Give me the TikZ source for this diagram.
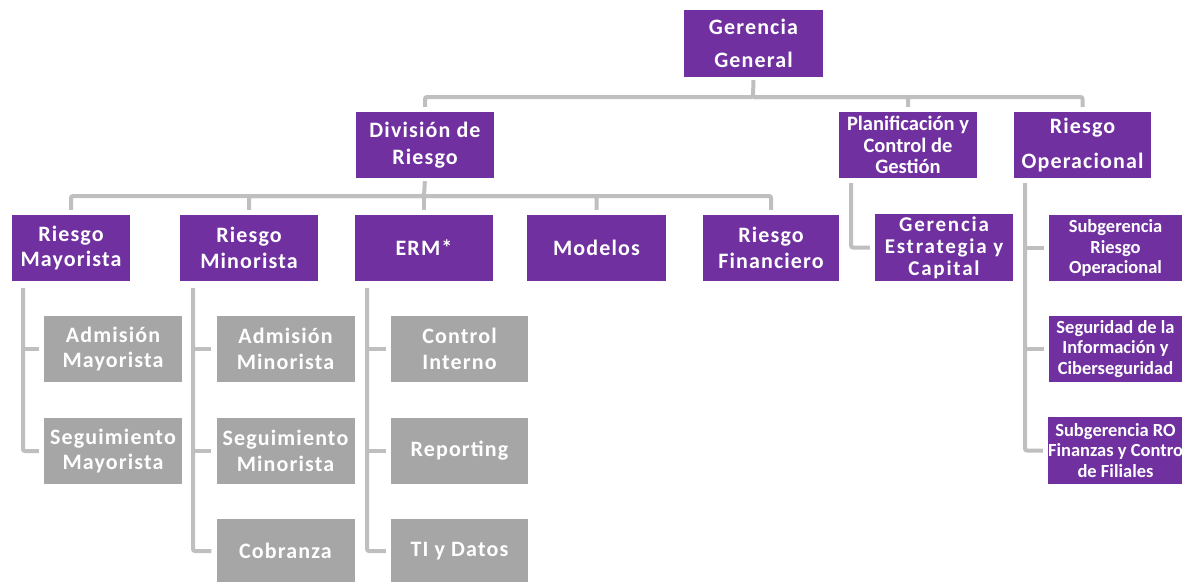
\documentclass[tikz,border=0pt]{standalone}
\usepackage{fontspec}
\setmainfont{Carlito}
\newfontfamily\spfont[LetterSpace=5.2]{Carlito}
\newfontfamily\wspfont[LetterSpace=8.5]{Carlito}
\definecolor{purp}{HTML}{7030A0}
\definecolor{gbox}{HTML}{A6A6A6}
\definecolor{conn}{HTML}{BFBFBF}
\tikzset{
  pbox/.style={fill=purp, text=white, font=\spfont\bfseries\fontsize{22}{25.5}\selectfont, align=center, inner sep=0pt, minimum width=138pt, minimum height=66pt},
  gbx/.style={pbox, fill=gbox},
  smallt/.style={font=\bfseries\fontsize{18.5}{20.5}\selectfont},
  midt/.style={font=\wspfont\bfseries\fontsize{21}{22}\selectfont},
  cline/.style={draw=conn, line width=4pt, shorten >=5pt, rounded corners=2pt},
}
\begin{document}
\begin{tikzpicture}[x=1pt,y=-1pt]
\useasboundingbox (0,0) rectangle (1182,581);
% level 0
\node[pbox, minimum width=139pt, minimum height=67pt, font=\spfont\bfseries\fontsize{22}{33}\selectfont] (gg) at (753.5,43.5) {Gerencia\\General};
% level 1
\node[pbox, font=\spfont\bfseries\fontsize{22}{27}\selectfont] (div) at (425,145) {División de\\Riesgo};
\node[pbox, font=\bfseries\fontsize{20.5}{21.5}\selectfont] (plan) at (908,145) {Planificación y\\Control de\\Gestión};
\node[pbox, minimum width=137pt, font=\spfont\bfseries\fontsize{22}{35}\selectfont] (rop) at (1082.5,145) {Riesgo\\Operacional};
% level 2
\node[pbox, minimum width=118pt] (may) at (71,248) {Riesgo\\Mayorista};
\node[pbox] (min) at (249,248) {Riesgo\\Minorista};
\node[pbox] (erm) at (424,248) {ERM*};
\node[pbox, minimum width=139pt] (mod) at (596.5,248) {Modelos};
\node[pbox, minimum width=136pt] (fin) at (771,248) {Riesgo\\Financiero};
\node[pbox, minimum width=138pt, minimum height=67pt, midt] (gec) at (944,247.5) {Gerencia\\Estrategia y\\Capital};
\node[pbox, minimum width=133pt, smallt] (sro) at (1115.5,248) {Subgerencia\\Riesgo\\Operacional};
\node[pbox, minimum width=133pt, smallt] (seg) at (1115.5,349) {Seguridad de la\\Información y\\Ciberseguridad};
\node[pbox, minimum width=133pt, minimum height=67pt, smallt] (sfi) at (1115.5,450.5) {Subgerencia RO\\Finanzas y Contro\\de Filiales};
% gray children
\node[gbx] (adma) at (113,349) {Admisión\\Mayorista};
\node[gbx] (sema) at (113,451) {Seguimiento\\Mayorista};
\node[gbx] (admi) at (285.5,349) {Admisión\\Minorista};
\node[gbx] (semi) at (285.5,451) {Seguimiento\\Minorista};
\node[gbx, minimum height=64pt] (cob) at (285.5,551) {Cobranza};
\node[gbx, minimum width=137pt] (ci) at (459.5,349) {Control\\Interno};
\node[gbx, minimum width=137pt] (rep) at (459.5,451) {Reporting};
\node[gbx, minimum width=137pt, minimum height=64pt] (ti) at (459.5,551) {TI y Datos};
% connectors level 0 -> 1
\coordinate (bus0) at (753,97);
\draw[cline, shorten <=3pt] (gg.south) -- (bus0) -| (div.north);
\draw[cline] (bus0) -| (plan.north);
\draw[cline] (bus0) -| (rop.north);
% connectors division -> level 2
\coordinate (bus1) at (424,196);
\draw[cline, shorten <=3pt] (div.south) -- (bus1) -| (may.north);
\draw[cline] (bus1) -| (min.north);
\draw[cline] (bus1) -- (erm.north);
\draw[cline] (bus1) -| (mod.north);
\draw[cline] (bus1) -| (fin.north);
% children of Riesgo Mayorista
\coordinate (vma) at (23,288);
\draw[cline] (vma) |- (sema.west);
\draw[cline] (vma |- adma.west) -- (adma.west);
% children of Riesgo Minorista
\coordinate (vmi) at (193,288);
\draw[cline] (vmi) |- (cob.west);
\draw[cline] (vmi |- admi.west) -- (admi.west);
\draw[cline] (vmi |- semi.west) -- (semi.west);
% children of ERM
\coordinate (ver) at (367,288);
\draw[cline] (ver) |- (ti.west);
\draw[cline] (ver |- ci.west) -- (ci.west);
\draw[cline] (ver |- rep.west) -- (rep.west);
% Planificacion -> Gerencia Estrategia
\coordinate (vpl) at (851,183);
\draw[cline] (vpl) |- (gec.west);
% Riesgo Operacional children
\coordinate (vro) at (1025,183);
\draw[cline] (vro) |- (sfi.west);
\draw[cline] (vro |- sro.west) -- (sro.west);
\draw[cline] (vro |- seg.west) -- (seg.west);
\end{tikzpicture}
\end{document}
